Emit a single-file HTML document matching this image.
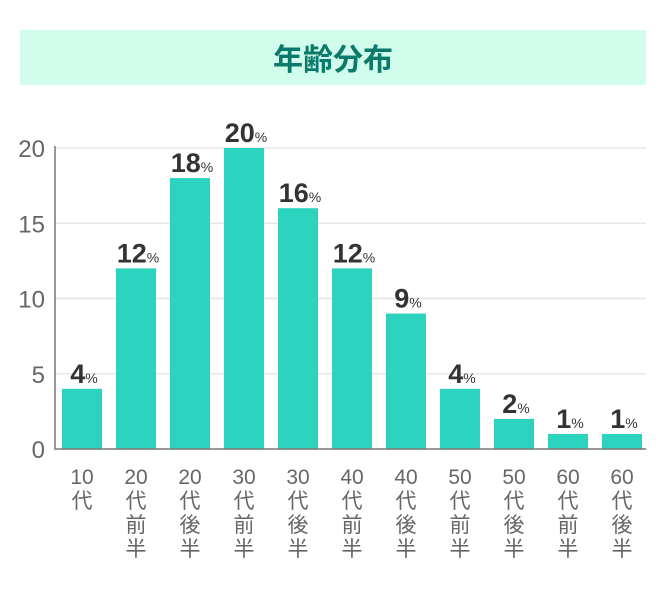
<!DOCTYPE html>
<html><head><meta charset="utf-8"><style>
body{margin:0;background:#fff;width:666px;height:594px;overflow:hidden;font-family:"Liberation Sans","Noto Sans CJK JP",sans-serif}
#title{position:absolute;left:20px;top:30px;width:626px;height:55px;background:#d0fdec;color:#0b7a6a;font-weight:bold;font-size:30px;text-align:center;line-height:55px;font-family:"Noto Sans CJK JP",sans-serif}
</style></head><body>
<div id="title">年齢分布</div>
<svg id="c" width="666" height="594" style="position:absolute;left:0;top:0"></svg>
<script>
const categories=[["10","代"],["20","代","前","半"],["20","代","後","半"],["30","代","前","半"],["30","代","後","半"],["40","代","前","半"],["40","代","後","半"],["50","代","前","半"],["50","代","後","半"],["60","代","前","半"],["60","代","後","半"]];
const values=[4,12,18,20,16,12,9,4,2,1,1];
const ticks=[0,5,10,15,20];
const NS="http://www.w3.org/2000/svg",svg=document.getElementById('c');
const x0=55,x1=646,yB=449,yT=148,maxV=20;
const y=v=>yB-(v/maxV)*(yB-yT);
const xc=i=>82+i*54;
function mk(t,a,txt){const e=document.createElementNS(NS,t);for(const k in a)e.setAttribute(k,a[k]);if(txt!=null)e.textContent=txt;svg.appendChild(e);return e;}
ticks.forEach(t=>{
 if(t>0){const g=mk('line',{x1:x0,x2:x1,y1:y(t),y2:y(t),stroke:'#e6e6e6','stroke-width':1.5});
 
 }
 const l=mk('text',{x:45,y:y(t)+9,'text-anchor':'end','font-size':24,fill:'#666'},t);
 
 
});
values.forEach((v,i)=>{
 const b=mk('rect',{x:xc(i)-20,y:y(v),width:40,height:yB-y(v),fill:'#2cd3bf'});
 
 
 const t=mk('text',{x:xc(i)+2,y:y(v)-6,'text-anchor':'middle',fill:'#333','font-weight':'bold','font-size':27});
 
 
 const a=document.createElementNS(NS,'tspan');a.textContent=v;t.appendChild(a);
 const p=document.createElementNS(NS,'tspan');p.textContent='%';p.setAttribute('font-size',14);p.setAttribute('font-weight','normal');t.appendChild(p);
 categories[i].forEach((s,j)=>{
  const c=mk('text',{x:xc(i),y:484+j*24,'text-anchor':'middle','font-size':21,fill:'#666'},s);
  
  
 });
});
const ax=mk('path',{d:`M${x0} ${yT-2}V${yB}H${x1}`,fill:'none',stroke:'#777','stroke-width':1.5});


</script>
</body></html>
